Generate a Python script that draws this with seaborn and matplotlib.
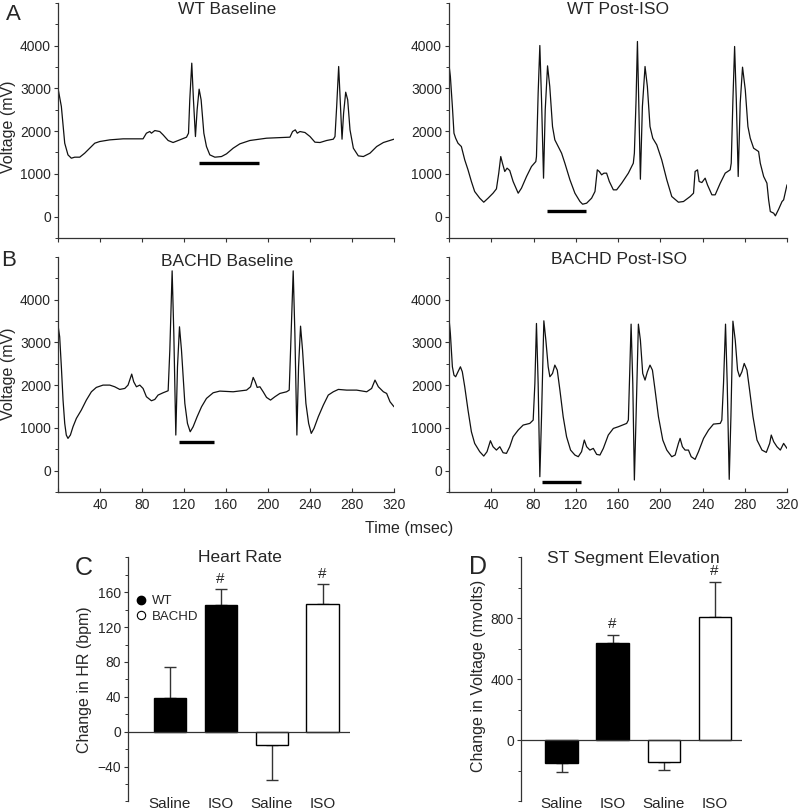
import pandas as pd
import matplotlib.pyplot as plt
import seaborn as sns
from matplotlib.lines import Line2D
from matplotlib.ticker import MultipleLocator

sns.set_style("ticks")
plt.rcParams['font.family'] = ['Liberation Sans', 'DejaVu Sans']

# ECG traces (time in msec, voltage in mV)
wt_base_t = [0, 3.2, 6.4, 9.5, 12.7, 15.9, 20.7, 25.4, 30.2, 35, 39.7, 49.3, 62, 81, 84.2,
             87.4, 89, 92.2, 96.9, 100.1, 104.9, 109.6, 116, 122.4, 124.3, 125.5, 127.4, 129,
             130.9, 132.5, 134.4, 136.3, 138.9, 141.4, 144.6, 149.4, 155.7, 160.5, 166.8, 173.2,
             182.7, 198.6, 220.9, 223.4, 226, 227.9, 230.4, 235.2, 240, 244.7, 249.5, 255.8,
             262.2, 263.8, 265.4, 267.3, 268.9, 270.5, 272, 274, 275.9, 278.1, 281.3, 286,
             290.8, 297.1, 303.5, 309.9, 320]
wt_base_v = [3000, 2573, 1715, 1442, 1364, 1388, 1388, 1481, 1598, 1715, 1754, 1793, 1817, 1817,
             1949, 1988, 1949, 2011, 1988, 1910, 1778, 1731, 1793, 1856, 1949, 2729, 3587, 2729,
             1871, 2495, 2979, 2729, 1949, 1637, 1442, 1388, 1403, 1466, 1598, 1700, 1778, 1832,
             1856, 1988, 2027, 1949, 1988, 1965, 1871, 1739, 1731, 1778, 1809, 1871, 2573, 3509,
             2651, 1809, 2417, 2908, 2729, 2027, 1598, 1419, 1403, 1481, 1637, 1731, 1809]

wt_iso_t = [0, 1.3, 3.2, 4.7, 6.3, 8.5, 11.7, 13.3, 14.9, 18, 21.2, 24.3, 29.1, 32.9, 37, 41.7,
            44.9, 47.1, 49, 50.6, 52.8, 55, 57.5, 60.7, 65.5, 68.6, 73.4, 78.1, 82.2, 82.8, 84.4,
            86, 87.6, 89.5, 91.1, 93.3, 95.4, 98, 100.2, 103.4, 106.6, 109.7, 114.5, 119.2, 124,
            126.5, 130.3, 135, 138.2, 140.4, 142.3, 144.5, 146.7, 149.2, 151.8, 155.6, 158.7,
            163.5, 169.8, 174.5, 175.5, 177.1, 178.4, 179.6, 181.2, 183.1, 185.6, 187.8, 190.3,
            192.9, 196.7, 201.4, 206.2, 210.9, 217.2, 222, 228.3, 231.5, 233, 235.3, 236.8, 239.4,
            242.5, 244.7, 248.9, 252, 256.8, 261.5, 266.2, 267.2, 268.8, 270.4, 272, 273.8, 275.7,
            277.9, 280.5, 283, 285.2, 288.4, 293.1, 294.7, 297.9, 301, 302.6, 304.2, 307.4, 309,
            312.1, 315.3, 316.8, 320]
wt_iso_v = [3548, 3275, 2573, 1949, 1832, 1715, 1637, 1481, 1325, 1092, 819, 585, 429, 335, 429,
            546, 647, 1014, 1403, 1247, 1053, 1131, 1076, 819, 546, 663, 936, 1170, 1286, 1403,
            2885, 4000, 2729, 897, 2495, 3524, 3041, 2105, 1793, 1637, 1481, 1247, 858, 546, 351,
            288, 312, 429, 585, 1092, 1053, 975, 1014, 1014, 819, 624, 624, 780, 1014, 1247, 1481,
            2729, 4094, 2729, 873, 2573, 3509, 3041, 2105, 1832, 1676, 1325, 858, 468, 335, 351,
            468, 546, 1053, 1092, 819, 795, 897, 741, 507, 507, 780, 1014, 1092, 1247, 2729, 3977,
            2729, 936, 2651, 3493, 2963, 2105, 1832, 1598, 1520, 1247, 936, 780, 390, 117, 78, 16,
            172, 351, 390, 741]

bachd_base_t = [0, 1.6, 3.2, 4.8, 6.4, 7.9, 9.5, 11.8, 14.3, 17.5, 22.2, 27, 31.8, 36.5, 42.9,
                49.3, 54, 58.8, 63.6, 66.7, 68.3, 70.2, 72.1, 74.7, 77.9, 81, 84.2, 89, 92.2, 95.3,
                100.1, 104.9, 106.5, 108.7, 110.3, 112.2, 113.8, 115.7, 117.6, 120.8, 123.3, 125.9,
                128.7, 132.5, 136.7, 141.4, 147.8, 154.1, 166.8, 179.6, 183.4, 185.9, 187.8, 189.7,
                192.3, 195.4, 198.6, 202.4, 206.6, 211.3, 217.7, 220.2, 221.5, 224, 225.6, 227.5,
                229.1, 231, 232.9, 236.1, 238.7, 241.2, 243.8, 247.9, 252.7, 257.4, 262.2, 267,
                274.9, 284.4, 294, 298.7, 301.9, 305.1, 309.9, 313, 316.2, 320]
bachd_base_v = [3401, 3128, 2428, 1650, 1105, 833, 755, 833, 1027, 1222, 1416, 1650, 1844, 1946,
                2000, 2000, 1961, 1899, 1922, 2000, 2117, 2257, 2078, 1961, 2000, 1922, 1728, 1634,
                1665, 1767, 1821, 1868, 2817, 4669, 3206, 833, 2428, 3362, 2817, 1572, 1105, 910,
                1027, 1261, 1494, 1689, 1821, 1860, 1844, 1883, 1961, 2179, 2078, 1946, 1961, 1844,
                1712, 1650, 1728, 1805, 1844, 1883, 2817, 4669, 3206, 833, 2428, 3377, 2817, 1572,
                1105, 872, 988, 1261, 1533, 1767, 1844, 1899, 1883, 1883, 1844, 1922, 2117, 1961,
                1844, 1805, 1611, 1494]

bachd_iso_t = [0, 1.3, 3.2, 4.7, 6.3, 8.5, 10.8, 12.6, 14.9, 18, 21.2, 24.3, 29.1, 32.9, 36,
               39.2, 41.7, 44.9, 48.1, 51.2, 54.4, 57.5, 60.7, 65.5, 70.2, 76.5, 79.7, 81.3, 82.8,
               84.4, 86, 87.6, 89.8, 91.7, 93.9, 95.5, 98, 100.2, 102.5, 105, 108.1, 111.3, 115.1,
               119.2, 122.4, 125.5, 128.1, 130.3, 133.4, 136.6, 139.8, 142.9, 146.1, 150.8, 155.6,
               160.3, 168.2, 169.8, 170.8, 172.4, 174, 175.5, 177.1, 179.3, 181.2, 183.4, 185.6,
               187.8, 190.3, 192.6, 195.1, 198.3, 202.4, 206.2, 210.9, 214.1, 217.2, 218.8, 221,
               223.5, 226.7, 229.3, 233, 236.2, 241, 245.7, 250.4, 256.8, 258.3, 259.9, 261.8,
               263.4, 265.3, 266.9, 268.8, 271, 273.2, 275.1, 277.3, 279.5, 282.1, 284.6, 287.8,
               291.6, 296.3, 300.4, 303.6, 305.1, 307.4, 310.5, 313.7, 316.8, 320]
bachd_iso_v = [3556, 3206, 2428, 2233, 2195, 2311, 2428, 2311, 1961, 1416, 910, 638, 444, 342, 444,
               700, 560, 482, 560, 420, 405, 560, 794, 949, 1066, 1105, 1183, 2039, 3440, 2039,
               -140, 1261, 3502, 3050, 2428, 2195, 2272, 2467, 2350, 1883, 1261, 794, 482, 366,
               327, 444, 716, 560, 482, 521, 381, 366, 521, 833, 988, 1027, 1105, 1183, 2039, 3424,
               2039, -218, 1261, 3424, 3050, 2272, 2117, 2311, 2467, 2350, 1883, 1261, 716, 482,
               327, 366, 638, 755, 560, 482, 482, 327, 265, 444, 755, 949, 1089, 1105, 1183, 2039,
               3424, 2039, -202, 1261, 3494, 3050, 2350, 2195, 2311, 2506, 2350, 1883, 1261, 716,
               482, 428, 638, 833, 677, 560, 482, 638, 521]

# horizontal marker bars under each trace: (start, end, level)
wt_base_bar = (134, 191, 1247)
wt_iso_bar = (93, 130, 140)
bachd_base_bar = (115, 149, 677)
bachd_iso_bar = (88, 125, -272)

# bar charts
cond_keys = ['WT Saline', 'WT ISO', 'BACHD Saline', 'BACHD ISO']
cond_labels = ['Saline', 'ISO', 'Saline', 'ISO']
genotype = ['WT', 'WT', 'BACHD', 'BACHD']
hr_mean = [39, 145, -15, 146]
hr_err = [35, 19, 41, 24]
st_mean = [-151, 640, -144, 807]
st_err = [59, 50, 51, 229]
signif = [False, True, False, True]

W, H = 800, 810
fig = plt.figure(figsize=(8, 8.1), dpi=100)


def fpos(x, y):
    return x / W, 1 - y / H


def add_axes(x0, y0, x1, y1):
    return fig.add_axes([x0 / W, 1 - y1 / H, (x1 - x0) / W, (y1 - y0) / H])


spine_col = '#333333'


def style_axes(ax):
    sns.despine(ax=ax)
    for s in ['left', 'bottom']:
        ax.spines[s].set_color(spine_col)
        ax.spines[s].set_linewidth(0.9)
    ax.tick_params(which='major', length=3, width=0.8, color=spine_col, labelsize=10, pad=2)
    ax.tick_params(which='minor', length=2, width=0.7, color=spine_col)


def draw_trace(ax, t, v, bar, bottom_row):
    sns.lineplot(x=t, y=v, ax=ax, color='#111111', linewidth=0.9, sort=False, estimator=None)
    ax.plot(bar[:2], [bar[2], bar[2]], color='black', lw=2.4, solid_capstyle='butt')
    ax.set_xlim(0, 320)
    ax.set_ylim(-500, 5000)
    style_axes(ax)
    ax.set_yticks(range(0, 4001, 1000))
    ax.yaxis.set_minor_locator(MultipleLocator(500))
    ax.set_xticks(range(0, 321, 40))
    if bottom_row:
        ax.set_xticklabels([''] + [str(x) for x in range(40, 321, 40)])
        ax.tick_params(axis='x', direction='in', pad=4)
    else:
        ax.set_xticklabels([])


traces = [
    (58, 2.75, 394, 237.9, wt_base_t, wt_base_v, wt_base_bar, False),
    (449, 2.75, 787, 237.9, wt_iso_t, wt_iso_v, wt_iso_bar, False),
    (58, 256.7, 394, 492.1, bachd_base_t, bachd_base_v, bachd_base_bar, True),
    (449, 256.7, 787, 492.1, bachd_iso_t, bachd_iso_v, bachd_iso_bar, True),
]
for x0, y0, x1, y1, t, v, bar, bottom in traces:
    ax = add_axes(x0, y0, x1, y1)
    draw_trace(ax, t, v, bar, bottom)

for txt, x, y in [('WT Baseline', 227, 10), ('WT Post-ISO', 618, 10),
                  ('BACHD Baseline', 227, 261), ('BACHD Post-ISO', 619, 260)]:
    fig.text(*fpos(x, y), txt, fontsize=12.5, ha='center', va='center')
for txt, x, y in [('Voltage (mV)', 9, 127), ('Voltage (mV)', 9, 374)]:
    fig.text(*fpos(x, y), txt, fontsize=11.5, ha='center', va='center', rotation=90)
fig.text(*fpos(409, 528), 'Time (msec)', fontsize=11.5, ha='center', va='center')
fig.text(*fpos(13, 14), 'A', fontsize=16, ha='center', va='center')
fig.text(*fpos(9, 260), 'B', fontsize=16, ha='center', va='center')


def draw_bars(ax, mean, err, ylim, major, minor, xlim, hash_off):
    df = pd.DataFrame({'cond': cond_keys, 'value': mean, 'geno': genotype})
    sns.barplot(data=df, x='cond', y='value', hue='geno', order=cond_keys,
                palette={'WT': 'black', 'BACHD': 'white'}, dodge=False, width=0.63,
                edgecolor='black', linewidth=1, errorbar=None, legend=False, ax=ax, zorder=3)
    lower = [e if m < 0 else 0 for m, e in zip(mean, err)]
    upper = [e if m >= 0 else 0 for m, e in zip(mean, err)]
    ax.errorbar(range(4), mean, yerr=[lower, upper], fmt='none', ecolor=spine_col,
                elinewidth=1, capsize=4.5, capthick=1, zorder=2)
    for i, (m, e, s) in enumerate(zip(mean, err, signif)):
        if s:
            ax.text(i, m + e + hash_off, '#', ha='center', va='bottom', fontsize=11)
    ax.axhline(0, color=spine_col, lw=0.9, zorder=4)
    ax.set_ylim(*ylim)
    ax.set_xlim(*xlim)
    style_axes(ax)
    ax.spines['bottom'].set_visible(False)
    ax.set_yticks(major)
    ax.yaxis.set_minor_locator(MultipleLocator(minor))
    ax.set_xticks(range(4))
    ax.set_xticklabels(cond_labels, fontsize=11)
    ax.tick_params(axis='x', length=0, pad=-3)
    ax.set_xlabel('')
    ax.set_ylabel('')


axc = add_axes(128, 557.4, 350, 801.4)
draw_bars(axc, hr_mean, hr_err, (-80, 200), [-40, 0, 40, 80, 120, 160], 20, (-0.82, 3.54), 3)
axd = add_axes(520.7, 557.3, 741.7, 801.3)
draw_bars(axd, st_mean, st_err, (-400, 1200), [0, 400, 800], 200, (-0.80, 3.53), 25)

handles = [Line2D([], [], marker='o', linestyle='', markersize=6, markerfacecolor='black',
                  markeredgecolor='black', label='WT'),
           Line2D([], [], marker='o', linestyle='', markersize=6, markerfacecolor='white',
                  markeredgecolor='black', markeredgewidth=0.8, label='BACHD')]
axc.legend(handles=handles, loc='upper left', bbox_to_anchor=fpos(136, 595),
           bbox_transform=fig.transFigure, frameon=False, fontsize=9.5, borderpad=0,
           borderaxespad=0, handlelength=0.8, handletextpad=0.4, labelspacing=0.25)

fig.text(*fpos(240, 558), 'Heart Rate', fontsize=12.5, ha='center', va='center')
fig.text(*fpos(633, 558), 'ST Segment Elevation', fontsize=12.5, ha='center', va='center')
fig.text(*fpos(85, 680), 'Change in HR (bpm)', fontsize=11.5, ha='center', va='center', rotation=90)
fig.text(*fpos(478, 676), 'Change in Voltage (mvolts)', fontsize=11.5, ha='center', va='center',
         rotation=90)
fig.text(*fpos(84, 568), 'C', fontsize=18, ha='center', va='center')
fig.text(*fpos(478, 567), 'D', fontsize=18, ha='center', va='center')

fig.savefig('out.png', dpi=100)
